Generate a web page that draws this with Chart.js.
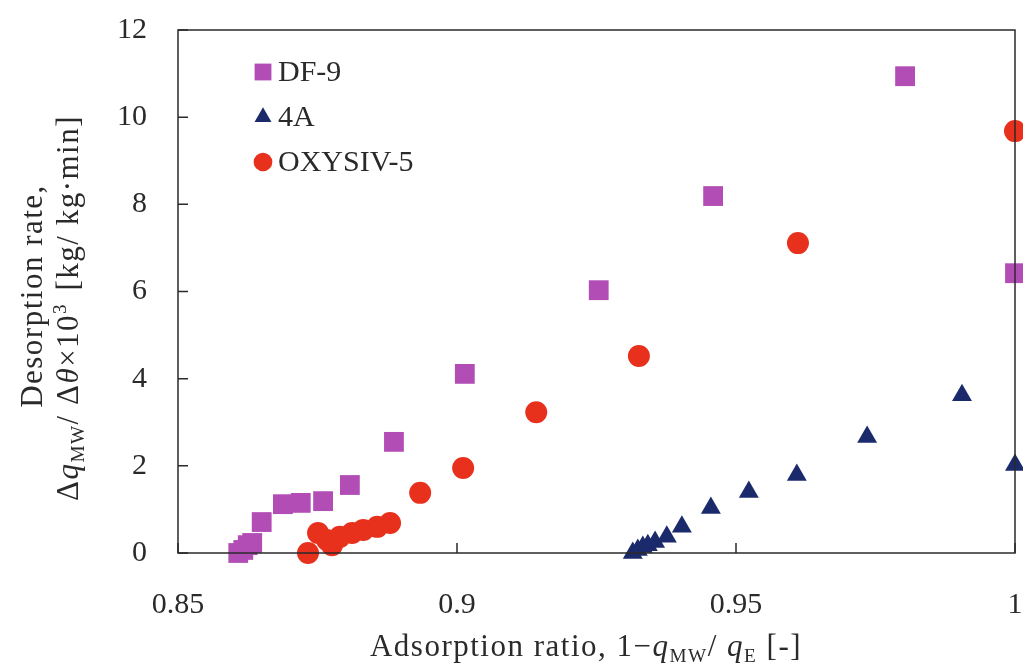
<!DOCTYPE html>
<html>
<head>
<meta charset="utf-8">
<script src="https://cdn.jsdelivr.net/npm/chart.js@4.4.1/dist/chart.umd.min.js"></script>
<style>
  body { margin: 0; background: #fff; }
  #wrap { width: 1023px; height: 666px; }
</style>
</head>
<body>
<div id="wrap"><canvas id="desorptionChart" width="1023" height="666"></canvas></div>
<script>
// values
const df9X = [0.8608, 0.8617, 0.8625, 0.8633, 0.865, 0.8688, 0.872, 0.876, 0.8808, 0.8887, 0.9014, 0.9254, 0.9459, 0.9803, 1.0];
const df9Y = [0.0, 0.07, 0.18, 0.23, 0.71, 1.12, 1.15, 1.19, 1.56, 2.55, 4.11, 6.03, 8.19, 10.94, 6.42];

const a4X = [0.9315, 0.9324, 0.9333, 0.9342, 0.9355, 0.9376, 0.9403, 0.9455, 0.9523, 0.9609, 0.9735, 0.9905, 1.0];
const a4Y = [0.0, 0.07, 0.14, 0.18, 0.25, 0.37, 0.6, 1.03, 1.4, 1.79, 2.66, 3.62, 2.02];

const oxyX = [0.8733, 0.8751, 0.8767, 0.8776, 0.879, 0.8812, 0.8832, 0.8857, 0.888, 0.8934, 0.9011, 0.9142, 0.9326, 0.9611, 1.0];
const oxyY = [0.0, 0.46, 0.3, 0.18, 0.37, 0.46, 0.53, 0.6, 0.69, 1.38, 1.95, 3.23, 4.52, 7.11, 9.68];

const seriesNames = ["DF-9", "4A", "OXYSIV-5"];
const xTicks = [0.85, 0.9, 0.95, 1];
const yTicks = [0, 2, 4, 6, 8, 10, 12];

const FONT = "'Liberation Serif', 'DejaVu Serif', serif";
const INK = "#2a2a2a";

function toPoints(xs, ys) {
  return xs.map((x, i) => ({ x: x, y: ys[i] }));
}

// measure a line made of segments (italic / sub / sup)
function measureRich(ctx, segs, size) {
  let w = 0;
  segs.forEach(s => {
    const sz = s.sub || s.sup ? size * 0.62 : size;
    ctx.font = (s.i ? "italic " : "") + sz + "px " + FONT;
    s.w = ctx.measureText(s.t).width + (s.gap || 0);
    s.sz = sz;
    w += s.w;
  });
  return w;
}
function drawRich(ctx, segs, size, cx, cy) {
  const total = measureRich(ctx, segs, size);
  let x = cx - total / 2;
  ctx.textAlign = "left";
  ctx.textBaseline = "middle";
  segs.forEach(s => {
    ctx.font = (s.i ? "italic " : "") + s.sz + "px " + FONT;
    let dy = 0;
    if (s.sub) dy = size * 0.28;
    if (s.sup) dy = -size * 0.3;
    ctx.fillText(s.t, x, cy + dy);
    x += s.w;
  });
}

// keep the plot box where the figure has it
function noScalePadding(scale) {
  scale.paddingTop = 0;
  scale.paddingBottom = 0;
  scale.paddingLeft = 0;
  scale.paddingRight = 0;
}

const decorPlugin = {
  id: "decor",
  afterDraw(chart) {
    const ctx = chart.ctx;
    const a = chart.chartArea;
    const xs = chart.scales.x;
    const ys = chart.scales.y;
    ctx.save();
    // frame
    ctx.strokeStyle = INK;
    ctx.lineWidth = 1.5;
    ctx.strokeRect(a.left, a.top, a.right - a.left, a.bottom - a.top);
    // inward ticks
    ctx.beginPath();
    yTicks.forEach(v => {
      const py = ys.getPixelForValue(v);
      ctx.moveTo(a.left, py);
      ctx.lineTo(a.left + 10, py);
    });
    xTicks.forEach(v => {
      const px = xs.getPixelForValue(v);
      ctx.moveTo(px, a.bottom);
      ctx.lineTo(px, a.bottom - 10);
    });
    ctx.stroke();

    // axis titles
    ctx.fillStyle = INK;
    ctx.letterSpacing = "1.5px";
    drawRich(ctx, [
      { t: "Adsorption ratio, 1\u2212" },
      { t: "q", i: true },
      { t: "MW", sub: true },
      { t: "/ " },
      { t: "q", i: true },
      { t: "E", sub: true },
      { t: " [-]" }
    ], 31, 586, 648);

    ctx.save();
    ctx.translate(34, 296);
    ctx.rotate(-Math.PI / 2);
    drawRich(ctx, [{ t: "Desorption rate," }], 31, 0, 0);
    ctx.restore();
    ctx.save();
    ctx.translate(70, 308);
    ctx.rotate(-Math.PI / 2);
    drawRich(ctx, [
      { t: "\u0394" },
      { t: "q", i: true },
      { t: "MW", sub: true },
      { t: "/ \u0394" },
      { t: "\u03b8", i: true },
      { t: "\u00d710" },
      { t: "3", sup: true, gap: 3 },
      { t: " [kg/ kg\u00b7min]" }
    ], 31, 0, 0);
    ctx.restore();
    ctx.letterSpacing = "0px";

    // legend inside the plot
    chart.data.datasets.forEach((ds, i) => {
      const ly = 72 + i * 45;
      ctx.fillStyle = ds.backgroundColor;
      Chart.helpers.drawPoint(ctx, {
        pointStyle: ds.pointStyle,
        radius: ds.pointRadius * 0.85,
        rotation: 0,
        borderWidth: 0
      }, 263, ly);
      ctx.fillStyle = INK;
      ctx.font = "30px " + FONT;
      ctx.textAlign = "left";
      ctx.textBaseline = "middle";
      ctx.fillText(ds.label, 278, ly + 1);
    });
    ctx.restore();
  }
};

function initDesorptionChart() {
  const ctx = document.getElementById("desorptionChart");
  if (!ctx) return;

  new Chart(ctx, {
    type: "scatter",
    data: {
      datasets: [
        {
          label: seriesNames[0],
          data: toPoints(df9X, df9Y),
          pointStyle: "rect",
          pointRadius: 14,
          backgroundColor: "#b24db6",
          borderColor: "#b24db6",
          borderWidth: 0,
          clip: false,
        },
        {
          label: seriesNames[1],
          data: toPoints(a4X, a4Y),
          pointStyle: "triangle",
          pointRadius: 11.5,
          backgroundColor: "#1b2a6b",
          borderColor: "#1b2a6b",
          borderWidth: 0,
          clip: false,
        },
        {
          label: seriesNames[2],
          data: toPoints(oxyX, oxyY),
          pointStyle: "circle",
          pointRadius: 11,
          backgroundColor: "#e8311d",
          borderColor: "#e8311d",
          borderWidth: 0,
          clip: false,
        },
      ],
    },
    options: {
      responsive: false,
      animation: false,
      layout: {
        autoPadding: false,
        padding: { left: 0, top: 30, right: 8, bottom: 0 },
      },
      plugins: {
        legend: { display: false },
        tooltip: { enabled: false },
      },
      scales: {
        x: {
          type: "linear",
          min: 0.85,
          max: 1,
          afterBuildTicks: (scale) => {
            scale.ticks = xTicks.map(v => ({ value: v }));
          },
          afterFit: (scale) => {
            scale.height = 113;
            noScalePadding(scale);
          },
          border: { display: false },
          grid: { display: false, drawTicks: false },
          ticks: {
            padding: 34,
            color: INK,
            font: { family: FONT, size: 30 },
            callback: (v) => String(Math.round(v * 100) / 100),
          },
        },
        y: {
          min: 0,
          max: 12,
          afterBuildTicks: (scale) => {
            scale.ticks = yTicks.map(v => ({ value: v }));
          },
          afterFit: (scale) => {
            scale.width = 178;
            noScalePadding(scale);
          },
          border: { display: false },
          grid: { display: false, drawTicks: false },
          ticks: {
            padding: 31,
            color: INK,
            font: { family: FONT, size: 30 },
          },
        },
      },
    },
    plugins: [decorPlugin],
  });
}

document.addEventListener("DOMContentLoaded", initDesorptionChart);
</script>
</body>
</html>
